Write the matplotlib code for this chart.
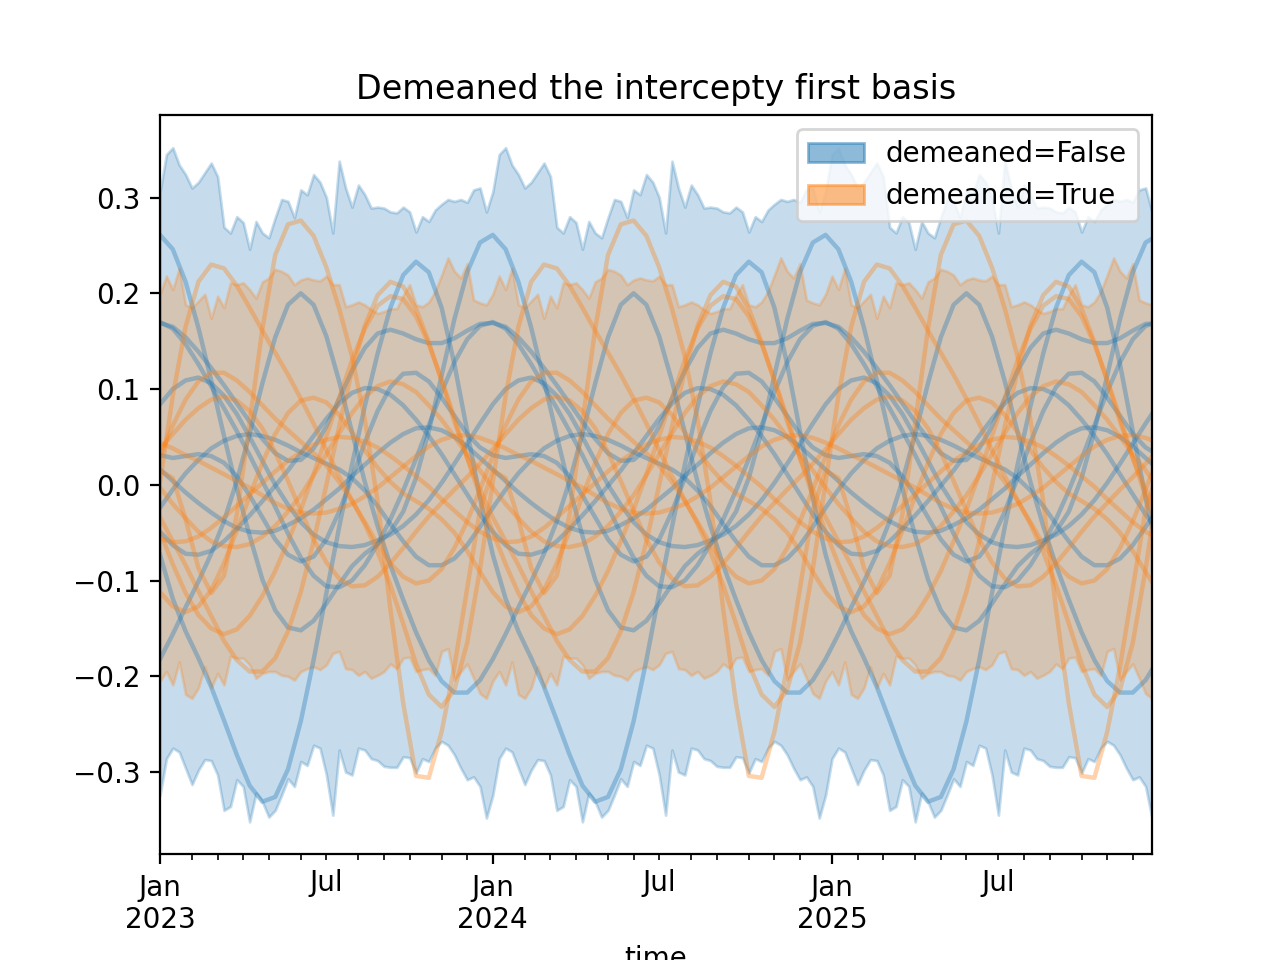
import numpy as np
import matplotlib
matplotlib.use("Agg")
import matplotlib.pyplot as plt
from matplotlib.patches import Patch
import pandas as pd

# ---- data -------------------------------------------------------------
start_date = "2023-01-02"          # weekly (Monday) index
n_weeks = 156

# HDI band edges, one value per week of the year (repeat every year)
blue_upper = [0.306, 0.345, 0.352, 0.334, 0.324, 0.31, 0.316, 0.326, 0.336, 0.322, 0.269, 0.263, 0.28,
              0.274, 0.246, 0.275, 0.263, 0.258, 0.279, 0.298, 0.296, 0.279, 0.308, 0.303, 0.324, 0.316,
              0.3, 0.263, 0.338, 0.31, 0.29, 0.313, 0.303, 0.289, 0.29, 0.289, 0.285, 0.284, 0.29,
              0.285, 0.264, 0.28, 0.275, 0.287, 0.293, 0.298, 0.296, 0.298, 0.295, 0.308, 0.31, 0.285]
blue_lower = [-0.324, -0.286, -0.275, -0.279, -0.296, -0.313, -0.298, -0.287, -0.288, -0.303, -0.34, -0.336,
              -0.308, -0.315, -0.352, -0.322, -0.331, -0.347, -0.34, -0.324, -0.307, -0.315, -0.289, -0.293,
              -0.272, -0.275, -0.303, -0.345, -0.277, -0.3, -0.303, -0.275, -0.277, -0.286, -0.288, -0.294,
              -0.295, -0.295, -0.284, -0.285, -0.301, -0.286, -0.289, -0.275, -0.268, -0.272, -0.282,
              -0.296, -0.308, -0.305, -0.315, -0.348]
orange_upper = [0.199, 0.218, 0.204, 0.226, 0.188, 0.185, 0.192, 0.199, 0.174, 0.197, 0.185, 0.211, 0.209,
                0.211, 0.204, 0.195, 0.212, 0.216, 0.225, 0.223, 0.219, 0.209, 0.214, 0.216, 0.214, 0.213,
                0.218, 0.209, 0.209, 0.186, 0.188, 0.191, 0.188, 0.183, 0.179, 0.181, 0.184, 0.184, 0.198,
                0.209, 0.188, 0.186, 0.191, 0.202, 0.219, 0.237, 0.223, 0.216, 0.231, 0.193, 0.19, 0.188]
orange_lower = [-0.205, -0.195, -0.209, -0.185, -0.219, -0.223, -0.212, -0.19, -0.212, -0.197, -0.209,
                -0.179, -0.181, -0.181, -0.188, -0.202, -0.197, -0.195, -0.195, -0.199, -0.2, -0.204,
                -0.195, -0.192, -0.19, -0.193, -0.188, -0.176, -0.174, -0.192, -0.193, -0.199, -0.195,
                -0.202, -0.199, -0.195, -0.187, -0.192, -0.181, -0.18, -0.195, -0.193, -0.192, -0.199,
                -0.174, -0.171, -0.204, -0.195, -0.187, -0.202, -0.218, -0.223]

# sample curves, one value every two weeks of the year (repeat every year)
blue_samples = [
    [0.261, 0.246, 0.212, 0.164, 0.109, 0.051, -0.004, -0.053, -0.099, -0.131, -0.149, -0.152, -0.142,
     -0.124, -0.104, -0.085, -0.072, -0.062, -0.049, -0.028, 0.007, 0.056, 0.114, 0.173, 0.222, 0.253],
    [-0.073, -0.119, -0.153, -0.181, -0.211, -0.246, -0.282, -0.314, -0.331, -0.326, -0.297, -0.247, -0.183,
     -0.113, -0.044, 0.021, 0.082, 0.137, 0.185, 0.219, 0.233, 0.222, 0.185, 0.126, 0.056, -0.014],
    [-0.182, -0.156, -0.128, -0.101, -0.072, -0.038, 0.004, 0.053, 0.106, 0.154, 0.188, 0.200, 0.188,
     0.155, 0.108, 0.055, 0.003, -0.043, -0.084, -0.120, -0.154, -0.183, -0.205, -0.217, -0.217, -0.204],
    [0.169, 0.165, 0.154, 0.139, 0.122, 0.104, 0.085, 0.066, 0.048, 0.033, 0.025, 0.026, 0.038,
     0.061, 0.090, 0.119, 0.143, 0.158, 0.162, 0.158, 0.152, 0.148, 0.148, 0.153, 0.161, 0.168],
    [0.084, 0.100, 0.109, 0.112, 0.106, 0.093, 0.074, 0.050, 0.025, 0.000, -0.021, -0.039, -0.052,
     -0.060, -0.064, -0.065, -0.063, -0.058, -0.052, -0.043, -0.031, -0.016, 0.002, 0.022, 0.043, 0.064],
    [0.031, 0.028, 0.030, 0.032, 0.030, 0.023, 0.009, -0.011, -0.034, -0.057, -0.073, -0.080, -0.075,
     -0.057, -0.028, 0.007, 0.044, 0.077, 0.102, 0.116, 0.117, 0.108, 0.091, 0.072, 0.053, 0.039],
    [-0.024, -0.005, 0.012, 0.026, 0.038, 0.046, 0.051, 0.053, 0.051, 0.047, 0.041, 0.034, 0.028,
     0.022, 0.016, 0.007, -0.006, -0.022, -0.041, -0.059, -0.075, -0.084, -0.084, -0.077, -0.063, -0.044],
    [-0.049, -0.063, -0.072, -0.073, -0.069, -0.059, -0.046, -0.032, -0.017, -0.001, 0.015, 0.033, 0.051,
     0.069, 0.085, 0.096, 0.101, 0.100, 0.094, 0.083, 0.068, 0.051, 0.032, 0.011, -0.010, -0.031],
    [0.016, 0.004, -0.008, -0.019, -0.029, -0.038, -0.045, -0.049, -0.050, -0.048, -0.042, -0.035, -0.026,
     -0.015, -0.004, 0.009, 0.021, 0.033, 0.044, 0.053, 0.059, 0.060, 0.057, 0.050, 0.040, 0.028],
    [0.170, 0.163, 0.147, 0.126, 0.103, 0.080, 0.056, 0.031, 0.004, -0.023, -0.051, -0.076, -0.095,
     -0.106, -0.107, -0.100, -0.084, -0.062, -0.036, -0.006, 0.027, 0.062, 0.097, 0.128, 0.152, 0.166],
]
orange_samples = [
    [0.015, 0.007, -0.036, -0.087, -0.113, -0.095, -0.031, 0.065, 0.163, 0.240, 0.272, 0.276, 0.260,
     0.227, 0.184, 0.134, 0.068, -0.017, -0.130, -0.228, -0.304, -0.306, -0.258, -0.190, -0.108, -0.026],
    [0.003, 0.093, 0.165, 0.212, 0.230, 0.226, 0.208, 0.185, 0.161, 0.138, 0.115, 0.090, 0.064,
     0.036, 0.009, -0.016, -0.041, -0.070, -0.105, -0.145, -0.187, -0.219, -0.232, -0.214, -0.165, -0.088],
    [-0.034, -0.059, -0.084, -0.111, -0.137, -0.163, -0.183, -0.195, -0.195, -0.181, -0.153, -0.112, -0.059,
     0.000, 0.061, 0.119, 0.166, 0.198, 0.212, 0.207, 0.184, 0.149, 0.108, 0.066, 0.028, -0.005],
    [-0.049, -0.083, -0.113, -0.136, -0.150, -0.156, -0.151, -0.137, -0.116, -0.090, -0.059, -0.026, 0.011,
     0.051, 0.091, 0.130, 0.163, 0.187, 0.197, 0.194, 0.176, 0.147, 0.110, 0.070, 0.028, -0.012],
    [0.030, 0.062, 0.089, 0.108, 0.117, 0.117, 0.109, 0.097, 0.083, 0.069, 0.057, 0.045, 0.033,
     0.020, 0.003, -0.017, -0.039, -0.062, -0.082, -0.096, -0.103, -0.100, -0.088, -0.066, -0.038, -0.005],
    [0.037, 0.053, 0.068, 0.080, 0.089, 0.092, 0.088, 0.077, 0.059, 0.034, 0.004, -0.027, -0.057,
     -0.081, -0.098, -0.106, -0.105, -0.096, -0.082, -0.066, -0.049, -0.033, -0.019, -0.005, 0.008, 0.022],
    [-0.112, -0.127, -0.133, -0.127, -0.110, -0.082, -0.048, -0.012, 0.023, 0.053, 0.075, 0.088, 0.091,
     0.086, 0.073, 0.055, 0.036, 0.018, 0.003, -0.009, -0.017, -0.025, -0.036, -0.050, -0.069, -0.091],
    [-0.003, -0.020, -0.035, -0.049, -0.059, -0.064, -0.065, -0.062, -0.054, -0.043, -0.028, -0.011, 0.010,
     0.032, 0.054, 0.075, 0.092, 0.103, 0.108, 0.105, 0.097, 0.083, 0.068, 0.050, 0.032, 0.015],
    [0.044, 0.038, 0.031, 0.025, 0.018, 0.011, 0.004, -0.003, -0.011, -0.019, -0.025, -0.029, -0.030,
     -0.029, -0.025, -0.020, -0.012, -0.003, 0.008, 0.019, 0.030, 0.040, 0.047, 0.051, 0.052, 0.049],
    [-0.056, -0.060, -0.059, -0.054, -0.045, -0.034, -0.022, -0.010, 0.002, 0.014, 0.025, 0.034, 0.042,
     0.047, 0.050, 0.049, 0.045, 0.039, 0.030, 0.020, 0.009, -0.002, -0.015, -0.027, -0.039, -0.049],
]

series_labels = ["demeaned=False", "demeaned=True"]
title = "Demeaned the intercepty first basis"
x_label = "time"


# ---- helpers ------------------------------------------------------------
def repeat_yearly(vals, n):
    return np.array([vals[i % len(vals)] for i in range(n)])


weeks = np.arange(n_weeks)
sample_weeks = np.arange(0, n_weeks + 2, 2)
start = pd.Timestamp(start_date)

fig, ax = plt.subplots(figsize=(6.4, 4.8), dpi=200)

groups = [
    ("C0", blue_lower, blue_upper, blue_samples),
    ("C1", orange_lower, orange_upper, orange_samples),
]
for color, lo, hi, samples in groups:
    ax.fill_between(weeks, repeat_yearly(lo, n_weeks), repeat_yearly(hi, n_weeks),
                    color=color, alpha=0.25)
    for s in samples:
        ax.plot(sample_weeks, repeat_yearly(s, len(sample_weeks)), color=color, alpha=0.35, lw=1.6)

ax.set_xlim(0, n_weeks - 1)
ax.set_ylim(-0.386, 0.386)

major_pos, major_lab, minor_pos, minor_lab = [], [], [], []
for ms in pd.date_range("2023-01-01", "2025-12-01", freq="MS"):
    pos = int(np.ceil((ms - start).days / 7))
    if ms.month == 1:
        major_pos.append(pos)
        major_lab.append(f"Jan\n{ms.year}")
    else:
        minor_pos.append(pos)
        minor_lab.append("Jul" if ms.month == 7 else "")
ax.set_xticks(major_pos, major_lab)
ax.set_xticks(minor_pos, minor_lab, minor=True)

ax.set_xlabel(x_label)
ax.set_title(title)
handles = [Patch(facecolor="C0", edgecolor="C0", alpha=0.5),
           Patch(facecolor="C1", edgecolor="C1", alpha=0.5)]
ax.legend(handles, series_labels, loc="upper right")

fig.savefig("out.png")
